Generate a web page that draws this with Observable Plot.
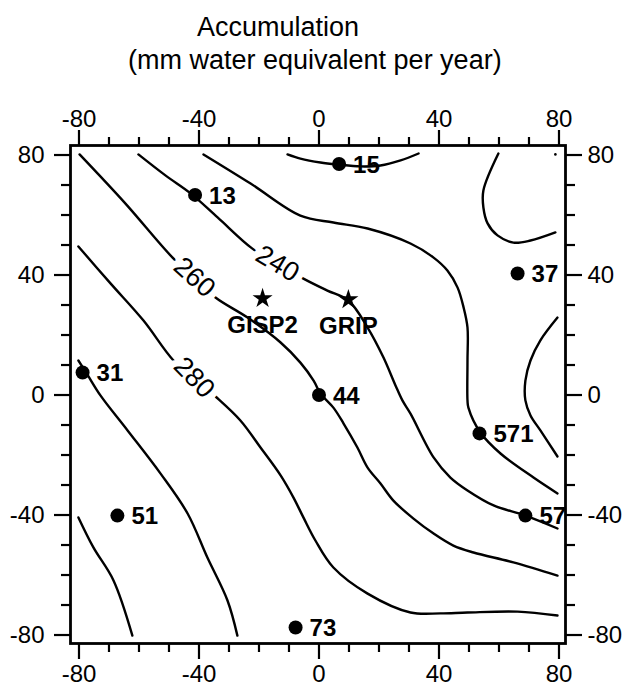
<!DOCTYPE html>
<html><head><meta charset="utf-8">
<script src="https://cdn.jsdelivr.net/npm/d3@7"></script>
<script src="https://cdn.jsdelivr.net/npm/@observablehq/plot@0.6"></script>
<style>
body{margin:0;background:#fff;}
#wrap{position:relative;width:628px;height:686px;background:#fff;}
.t{position:absolute;font-family:"Liberation Sans",Arial,Helvetica,sans-serif;font-size:27px;line-height:27px;white-space:nowrap;color:#000;}
#chart{position:absolute;left:0;top:90px;}
</style></head><body>
<div id="wrap">
<div class="t" style="left:197px;top:14px">Accumulation</div>
<div class="t" style="left:128px;top:47px">(mm water equivalent per year)</div>
<div id="chart"></div>
</div>
<script>
// Tick values
const majorTicks = [-80, -40, 0, 40, 80];
const minorTicks = [-70, -60, -50, -30, -20, -10, 10, 20, 30, 50, 60, 70];

// Stations (dots) with labels
const stationX = [6.7, -41.3, 66.2, -78.8, 0, 53.5, -67.2, 68.8, -7.8];
const stationY = [77, 66.7, 40.5, 7.5, 0, -12.8, -40.2, -40.2, -77.5];
const stationLabel = ["15", "13", "37", "31", "44", "571", "51", "57", "73"];

// Ice cores (stars)
const coreX = [-18.8, 9.8];
const coreY = [32.2, 31.8];
const coreName = ["GISP2", "GRIP"];

// Contour lines (x, y)
const contour260 = [[-79.8,80.2],[-64.5,63.8],[-48.8,45.8],[-41.5,39.2],[-34.5,32.5],[-23.8,25.8],[-12.8,17.5],[-6.2,10.8],[-1.8,4.8],[0.5,0.5],[4.8,-4.2],[8.2,-9.5],[12.8,-17.5],[16.2,-24.2],[20.5,-29.5],[24.8,-35.2],[31.5,-41.2],[38.2,-46.2],[44.8,-50.2],[51.5,-52.5],[64.8,-55.8],[79.5,-60.2]];
const contour240 = [[-60.2,80.2],[-51.2,73.2],[-42.8,67.2],[-33.8,59.2],[-22.2,48.8],[-13.8,43.8],[-5.2,38.8],[2.8,34.8],[9.8,31.5],[16.2,22.5],[21.5,12.5],[25.5,3.2],[27.8,-1.8],[30.5,-6.2],[38.2,-20.8],[43.8,-27.5],[49.5,-31.8],[58.2,-36.8],[68.8,-40.2],[79.5,-44.5]];
const contour220 = [[-38.5,80.2],[-22.8,70.5],[-6.2,59.8],[4.8,57.5],[16.2,55.5],[30.5,50.5],[38.2,45.8],[42.8,41.5],[46.2,35.8],[48.2,29.2],[49.5,22.5],[49.5,11.5],[49.5,-1.8],[49.8,-4.2],[53.8,-12.5],[60.5,-19.5],[71.5,-27.5],[79.5,-32.8]];
const contourTop = [[-10.5,80.2],[-6.2,78.8],[0.5,77.5],[6.5,76.8],[13.8,76.2],[20.5,76.5],[27.2,78.2],[33.2,80.5]];
const contourNE = [[59.8,80.5],[54.8,68.2],[54.8,62.5],[56.2,57.2],[59.5,53.2],[64.8,50.8],[70.5,51.5],[78.8,54.2]];
const contourE = [[79.5,25.8],[73.8,18.2],[70.5,11.5],[68.8,4.8],[68.8,-1.8],[70.5,-6.8],[73.8,-11.8],[79.5,-20.5]];
const contour280 = [[-80.2,49.5],[-69.5,37.2],[-58.5,24.8],[-48.5,11.5],[-41.5,5.5],[-34.5,-0.5],[-26.2,-8.5],[-19.5,-17.5],[-12.8,-26.8],[-8.5,-34.2],[-5.2,-40.8],[-1.2,-48.5],[4.8,-57.5],[16.2,-66.2],[30.5,-72.5],[40.5,-72.8],[49.5,-72.5],[66.2,-72.2],[79.5,-73.5]];
const contour300 = [[-80.2,11.5],[-77.2,6.8],[-72.8,-0.2],[-63.8,-11.8],[-52.8,-26.2],[-43.8,-39.5],[-37.2,-54.2],[-30.5,-68.5],[-27.2,-80.2]];
const contour320 = [[-80.2,-40.8],[-75.2,-50.8],[-68.5,-61.8],[-62.2,-80.2]];
const tinyDot = [[78.8,80.2]];

// Contour labels
const labelText = ["260", "240", "280"];
const labelX = [-41.5, -13.8, -41.6];
const labelY = [39.2, 43.8, 5.8];
const labelAngle = [42, 31, 46];

const contours = [
  ["260", contour260], ["240", contour240], ["220", contour220], ["top", contourTop],
  ["ne", contourNE], ["e", contourE], ["280", contour280], ["300", contour300], ["320", contour320]
].flatMap(([id, pts]) => pts.map(([x, y]) => ({id, x, y})));

const stations = stationX.map((x, i) => ({x, y: stationY[i], label: stationLabel[i]}));
const cores = coreX.map((x, i) => ({x, y: coreY[i], name: coreName[i]}));
const clabels = labelText.map((t, i) => ({x: labelX[i], y: labelY[i], t, a: labelAngle[i]}));

const FONT = '"Liberation Sans", Arial, Helvetica, sans-serif';
const fmt = d => String(d);

const chart = Plot.plot({
  width: 628,
  height: 596,
  marginLeft: 70,
  marginRight: 63,
  marginTop: 55,
  marginBottom: 43,
  x: {domain: [-82.83, 82.17]},
  y: {domain: [-82.83, 83.17]},
  style: {fontFamily: FONT, fontSize: "24px", color: "black", background: "white"},
  marks: [
    Plot.line(contours, {x: "x", y: "y", z: "id", curve: "catmull-rom", stroke: "black", strokeWidth: 2.4}),
    Plot.text(clabels, {x: "x", y: "y", text: "t", rotate: "a", fontSize: 27, fill: "black",
      stroke: "white", strokeWidth: 14, paintOrder: "stroke", strokeLinejoin: "round", fontFamily: FONT}),
    Plot.dot(tinyDot, {x: d => d[0], y: d => d[1], r: 1.3, fill: "black"}),
    Plot.dot(stations, {x: "x", y: "y", r: 7, fill: "black"}),
    Plot.text(stations, {x: "x", y: "y", text: "label", dx: 14, dy: 1, textAnchor: "start", fontWeight: "bold", fontSize: 24, fontFamily: FONT, fill: "black"}),
    Plot.dot(cores, {x: "x", y: "y", symbol: "star", r: 6.3, fill: "black"}),
    Plot.text(cores, {x: "x", y: "y", text: "name", dy: 27, textAnchor: "middle", fontWeight: "bold", fontSize: 24, fontFamily: FONT, fill: "black"}),
    Plot.frame({stroke: "black", strokeWidth: 2.8}),
    Plot.axisX(majorTicks, {anchor: "top", tickSize: 16, tickPadding: 3, tickFormat: fmt, fontSize: 24, strokeWidth: 2.2, label: null}),
    Plot.axisX(minorTicks, {anchor: "top", tickSize: 9, tickFormat: () => "", strokeWidth: 2.2, label: null}),
    Plot.axisX(majorTicks, {anchor: "bottom", tickSize: 16, tickPadding: 5, tickFormat: fmt, fontSize: 24, strokeWidth: 2.2, label: null}),
    Plot.axisX(minorTicks, {anchor: "bottom", tickSize: 9, tickFormat: () => "", strokeWidth: 2.2, label: null}),
    Plot.axisY(majorTicks, {anchor: "left", tickSize: 16, tickPadding: 10, tickFormat: fmt, fontSize: 24, strokeWidth: 2.2, label: null}),
    Plot.axisY(minorTicks, {anchor: "left", tickSize: 9, tickFormat: () => "", strokeWidth: 2.2, label: null}),
    Plot.axisY(majorTicks, {anchor: "right", tickSize: 16, tickPadding: 6, tickFormat: fmt, fontSize: 24, strokeWidth: 2.2, label: null}),
    Plot.axisY(minorTicks, {anchor: "right", tickSize: 9, tickFormat: () => "", strokeWidth: 2.2, label: null})
  ]
});
document.getElementById("chart").appendChild(chart);
</script>
</body></html>
